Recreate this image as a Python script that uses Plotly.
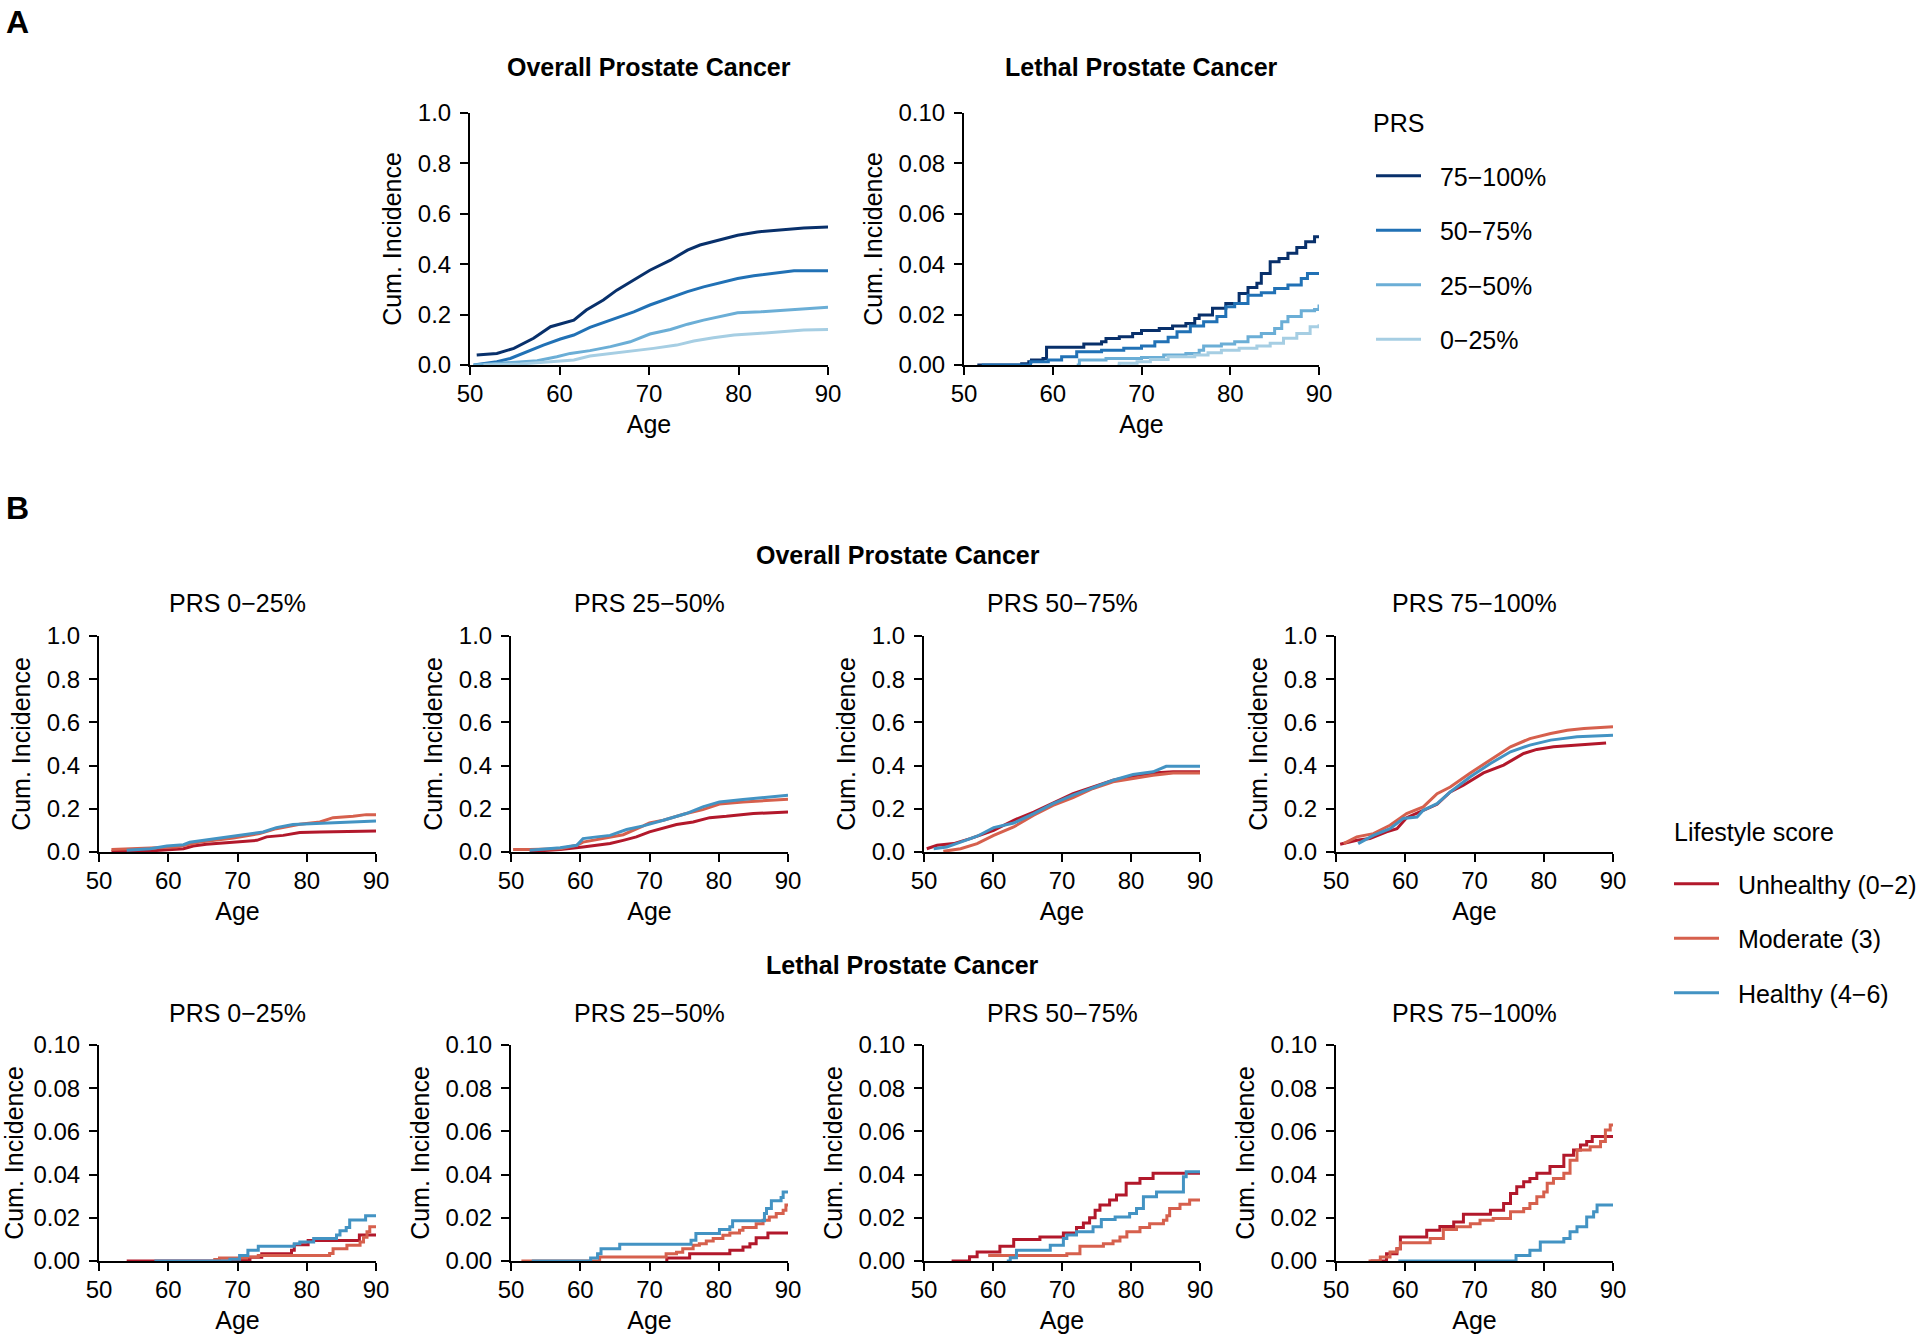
import plotly.graph_objects as go

# ---------------- data ----------------
AGE_TICKS = [50, 60, 70, 80, 90]
OVERALL_TICKS = [0.0, 0.2, 0.4, 0.6, 0.8, 1.0]
OVERALL_TICKTEXT = ["0.0", "0.2", "0.4", "0.6", "0.8", "1.0"]
LETHAL_TICKS = [0.0, 0.02, 0.04, 0.06, 0.08, 0.10]
LETHAL_TICKTEXT = ["0.00", "0.02", "0.04", "0.06", "0.08", "0.10"]

PRS_GROUPS = ["75−100%", "50−75%", "25−50%", "0−25%"]
PRS_PANEL_TITLES = ["PRS 0−25%", "PRS 25−50%", "PRS 50−75%", "PRS 75−100%"]
LIFESTYLE_GROUPS = ["Unhealthy (0−2)", "Moderate (3)", "Healthy (4−6)"]

# Panel A, overall (age, cumulative incidence)
A_OV_Q4 = [(50.75, 0.040), (53, 0.046), (54.9, 0.066), (57.1, 0.106), (59, 0.152), (61.6, 0.178), (63, 0.218),
           (64.9, 0.258), (66.4, 0.297), (68.3, 0.337), (70.1, 0.376), (72.4, 0.416), (74.3, 0.456), (75.7, 0.476),
           (77.6, 0.495), (79.9, 0.515), (82.1, 0.528), (85.4, 0.539), (87.3, 0.544), (90, 0.548)]
A_OV_Q3 = [(50.4, 0.0), (53, 0.013), (54.5, 0.026), (56.3, 0.053), (58.2, 0.079), (60.1, 0.103), (61.6, 0.119),
           (63.4, 0.149), (66, 0.181), (68.3, 0.211), (70.1, 0.238), (72.4, 0.267), (74.3, 0.291), (76.1, 0.310),
           (78, 0.328), (79.9, 0.343), (81.7, 0.354), (84.3, 0.366), (86.2, 0.374), (90, 0.374)]
A_OV_Q2 = [(50.4, 0.0), (53.7, 0.007), (57.5, 0.017), (59.7, 0.033), (61.2, 0.046), (63.4, 0.057), (65.7, 0.073),
           (67.9, 0.092), (70.1, 0.123), (72.4, 0.141), (74.3, 0.162), (76.1, 0.178), (78, 0.194), (79.9, 0.207),
           (82.5, 0.211), (85.4, 0.218), (87.3, 0.225), (90, 0.229)]
A_OV_Q1 = [(51.5, 0.0), (55.6, 0.004), (59, 0.013), (61.6, 0.020), (63.4, 0.036), (65.7, 0.046), (68.3, 0.055),
           (70.5, 0.066), (73.1, 0.079), (75, 0.095), (77.2, 0.108), (79.5, 0.119), (82.1, 0.125), (84.7, 0.132),
           (87.3, 0.139), (90, 0.141)]

# Panel A, lethal (step functions)
A_LE_Q4 = [(51.5, 0), (56.5, 0.0005), (57.3, 0.0013), (57.6, 0.002), (58.9, 0.0026), (59.3, 0.007), (63.5, 0.0083),
           (65.5, 0.0092), (66, 0.0105), (67.5, 0.0112), (69, 0.0125), (70, 0.0137), (72, 0.0145), (73.5, 0.0155),
           (75, 0.0165), (76, 0.0185), (76.5, 0.0198), (78, 0.0225), (79.5, 0.0244), (81, 0.0284), (82, 0.0308),
           (83, 0.0324), (83.5, 0.0363), (84.5, 0.041), (85.5, 0.0423), (86.5, 0.0443), (87.5, 0.0466),
           (88.5, 0.0489), (89.5, 0.0509), (90, 0.0515)]
A_LE_Q3 = [(52, 0), (57.5, 0.0013), (59.5, 0.002), (61, 0.0033), (62.7, 0.0053), (65.5, 0.0059), (68, 0.0066),
           (70, 0.0075), (71.5, 0.0092), (73, 0.011), (74, 0.0132), (75.5, 0.0155), (77, 0.0172), (78.5, 0.0192),
           (79.5, 0.0231), (80.5, 0.0244), (82, 0.0277), (83.5, 0.0287), (85, 0.0304), (86.5, 0.0317), (88, 0.0343),
           (88.7, 0.0363), (90, 0.0363)]
A_LE_Q2 = [(62.7, 0), (63, 0.002), (66, 0.0026), (70, 0.003), (72.5, 0.004), (75, 0.0046), (76.5, 0.0059),
           (77, 0.0075), (79, 0.0083), (80.5, 0.0092), (82, 0.0112), (83.5, 0.0125), (85, 0.0145), (85.8, 0.0172),
           (86.5, 0.0192), (88, 0.0215), (89.5, 0.022), (90, 0.024)]
A_LE_Q1 = [(67.3, 0), (67.5, 0.0007), (69.5, 0.0013), (71, 0.0022), (73, 0.0033), (76, 0.004), (77.5, 0.0049),
           (79, 0.0059), (81, 0.0066), (83, 0.0075), (84.5, 0.0086), (86, 0.0106), (87.5, 0.0125), (89, 0.0152),
           (90, 0.0162)]

# Panel B, overall, by PRS quartile and lifestyle
B_OV_Q1_UNH = [(51.8, 0.003), (57.4, 0.005), (62.2, 0.015), (63.6, 0.028), (65.5, 0.036), (68.4, 0.042),
               (70.4, 0.046), (72.8, 0.054), (74.2, 0.07), (76.6, 0.077), (79, 0.09), (81.9, 0.093), (90, 0.097)]
B_OV_Q1_MOD = [(51.8, 0.011), (57.4, 0.019), (61.2, 0.023), (64.6, 0.046), (69.4, 0.065), (73.2, 0.085),
               (75.6, 0.108), (79, 0.128), (81.9, 0.139), (83.8, 0.159), (86.7, 0.165), (88.6, 0.173), (90, 0.173)]
B_OV_Q1_HEA = [(54, 0.008), (57.4, 0.015), (59.8, 0.028), (62.2, 0.034), (63.1, 0.045), (67, 0.062), (70.4, 0.077),
               (73.7, 0.093), (75.6, 0.113), (78, 0.127), (80.5, 0.131), (83.8, 0.136), (86.7, 0.139), (90, 0.144)]

B_OV_Q2_UNH = [(52.7, 0.003), (57.1, 0.011), (60.4, 0.023), (64.3, 0.039), (66.2, 0.054), (68.1, 0.07), (70, 0.093),
               (72.5, 0.113), (73.9, 0.127), (76.3, 0.139), (78.7, 0.159), (81.1, 0.165), (85, 0.178), (90, 0.185)]
B_OV_Q2_MOD = [(50.3, 0.011), (52.7, 0.011), (57.1, 0.015), (59.5, 0.031), (60.4, 0.046), (63.3, 0.062),
               (66.2, 0.08), (69.1, 0.121), (70, 0.135), (72, 0.147), (75.3, 0.178), (77.7, 0.196), (80.1, 0.222),
               (83.5, 0.232), (86.9, 0.24), (90, 0.244)]
B_OV_Q2_HEA = [(52.7, 0.008), (57.1, 0.02), (59.5, 0.031), (60.4, 0.062), (62.4, 0.07), (64.3, 0.077),
               (66.7, 0.104), (69.1, 0.121), (72, 0.147), (75.3, 0.178), (77.7, 0.209), (80.1, 0.232),
               (83.5, 0.243), (86.9, 0.255), (90, 0.263)]

B_OV_Q3_UNH = [(50.4, 0.015), (51.9, 0.031), (54.3, 0.039), (56.7, 0.062), (60.1, 0.1), (63, 0.147),
               (65.9, 0.185), (68.7, 0.227), (71.6, 0.27), (74.5, 0.301), (77.4, 0.332), (80.3, 0.352),
               (83.2, 0.366), (86.1, 0.371), (90, 0.371)]
B_OV_Q3_MOD = [(52.8, 0.003), (55.3, 0.015), (57.7, 0.039), (60.1, 0.077), (63, 0.116), (65.9, 0.17),
               (68.7, 0.216), (71.6, 0.252), (74.5, 0.294), (77.4, 0.325), (80.3, 0.34), (83.2, 0.355),
               (86.1, 0.366), (90, 0.366)]
B_OV_Q3_HEA = [(51.4, 0.015), (53.3, 0.023), (55.3, 0.046), (57.7, 0.073), (60.1, 0.113), (63, 0.134),
               (65.9, 0.178), (68.7, 0.224), (71.6, 0.263), (74.5, 0.298), (77.4, 0.332), (80.3, 0.359),
               (83.2, 0.371), (85.1, 0.397), (90, 0.397)]

B_OV_Q4_UNH = [(50.6, 0.036), (53, 0.054), (54.9, 0.062), (57.3, 0.093), (58.8, 0.108), (60.2, 0.159),
               (62.6, 0.193), (64.6, 0.221), (66.5, 0.278), (68.4, 0.309), (71.3, 0.366), (74.2, 0.402),
               (77.1, 0.456), (79, 0.475), (81.4, 0.487), (84.3, 0.495), (86.7, 0.502), (89, 0.505)]
B_OV_Q4_MOD = [(51.1, 0.039), (53, 0.07), (55.4, 0.085), (57.8, 0.124), (60.2, 0.178), (62.6, 0.209),
               (64.6, 0.27), (66.5, 0.301), (69.4, 0.366), (72.3, 0.425), (75.2, 0.487), (78, 0.525), (81, 0.549),
               (83.4, 0.564), (85.8, 0.572), (90, 0.58)]
B_OV_Q4_HEA = [(53.2, 0.039), (55.4, 0.077), (57.8, 0.108), (59.7, 0.155), (61.7, 0.162), (62.6, 0.193),
               (64.6, 0.224), (66.5, 0.278), (69.4, 0.348), (72.3, 0.41), (75.2, 0.464), (78, 0.495), (81, 0.518),
               (84.8, 0.533), (90, 0.541)]

# Panel B, lethal (step functions)
B_LE_Q1_UNH = [(54, 0), (70.2, 0.0007), (71.8, 0.0017), (73.5, 0.0034), (77.8, 0.005), (78.2, 0.0075),
               (80.2, 0.0095), (87.6, 0.012), (90, 0.012)]
B_LE_Q1_MOD = [(66.5, 0.0007), (67.4, 0.0014), (71.3, 0.0019), (73, 0.0026), (83.3, 0.0035), (83.8, 0.0057),
               (85.8, 0.0073), (87.7, 0.0088), (88.2, 0.011), (88.7, 0.0135), (89.1, 0.0158), (90, 0.0158)]
B_LE_Q1_HEA = [(58, 0), (68.9, 0.0008), (70.3, 0.0026), (71.5, 0.005), (73, 0.0068), (78.2, 0.008), (79, 0.0088),
               (81, 0.0104), (84.3, 0.012), (84.8, 0.014), (85.7, 0.0155), (86.2, 0.019), (88.5, 0.021), (90, 0.021)]

B_LE_Q2_UNH = [(72.4, 0), (72.5, 0.0014), (75.8, 0.0034), (81.6, 0.005), (83.5, 0.0065), (84.5, 0.008),
               (85.4, 0.0108), (87.1, 0.013), (90, 0.013)]
B_LE_Q2_MOD = [(51.5, 0), (62.8, 0.0019), (72.4, 0.0034), (73.9, 0.004), (74.8, 0.0057), (76.3, 0.0073),
               (77.2, 0.008), (78.2, 0.0093), (79.2, 0.0104), (80.6, 0.0119), (81.6, 0.013), (83, 0.0142),
               (83.5, 0.0155), (85.4, 0.0173), (86.4, 0.0189), (87.3, 0.0204), (88.3, 0.022), (89.3, 0.0235),
               (89.7, 0.0259), (90, 0.0259)]
B_LE_Q2_HEA = [(53, 0), (61.5, 0.0014), (62.5, 0.0034), (63, 0.0057), (65.7, 0.0077), (76, 0.0096),
               (76.7, 0.0127), (80.1, 0.0146), (81.6, 0.0158), (82, 0.0186), (86.6, 0.022), (86.9, 0.0243),
               (87.6, 0.0279), (89, 0.0294), (89.3, 0.032), (90, 0.032)]

B_LE_Q3_UNH = [(54, 0), (56.6, 0.002), (57.7, 0.0042), (61, 0.0068), (63, 0.0099), (66.8, 0.0111), (70.2, 0.013),
               (72.1, 0.0155), (73.1, 0.0176), (74, 0.02), (74.8, 0.0235), (75.5, 0.0259), (76.9, 0.0282),
               (77.9, 0.0305), (79.3, 0.036), (81.3, 0.0382), (83.2, 0.0406), (90, 0.0406)]
B_LE_Q3_MOD = [(59.3, 0.0026), (70.7, 0.0034), (72.6, 0.0068), (76, 0.008), (77.4, 0.0093), (78.4, 0.0111),
               (79.4, 0.0135), (81.3, 0.0155), (82.7, 0.0173), (84.7, 0.0189), (85.2, 0.021), (85.6, 0.0243),
               (87.1, 0.0263), (88.5, 0.0282), (90, 0.0285)]
B_LE_Q3_HEA = [(62, 0), (62.5, 0.0015), (63.4, 0.005), (68.3, 0.0073), (70.2, 0.0104), (70.7, 0.012),
               (72.1, 0.0135), (74.5, 0.0158), (75.7, 0.0192), (77.7, 0.0204), (79.8, 0.022), (80.8, 0.0243),
               (81.8, 0.0297), (83.7, 0.032), (87.6, 0.039), (88, 0.0413), (90, 0.0413)]

B_LE_Q4_UNH = [(55, 0), (57.3, 0.0034), (58.8, 0.0057), (59.3, 0.0111), (63.1, 0.0142), (65, 0.016), (67, 0.018),
               (68.4, 0.0217), (72.3, 0.0235), (74.2, 0.0266), (75.2, 0.0313), (76.1, 0.0344), (77.1, 0.0367),
               (78, 0.0382), (79, 0.0406), (80.9, 0.0437), (82.9, 0.049), (84.3, 0.0514), (85.3, 0.0537),
               (86.2, 0.0553), (87, 0.0576), (90, 0.0576)]
B_LE_Q4_MOD = [(54.7, 0), (56.4, 0.0019), (57.8, 0.0042), (58.8, 0.0057), (59.3, 0.0084), (63.6, 0.0104),
               (65.5, 0.0146), (67.4, 0.0158), (69.4, 0.0173), (70.8, 0.0189), (72.7, 0.0197), (75.2, 0.0228),
               (77.1, 0.0243), (78, 0.0266), (79, 0.0297), (80, 0.032), (80.5, 0.036), (81.4, 0.0382),
               (82.9, 0.0406), (83.8, 0.0467), (84.8, 0.0514), (86.7, 0.0529), (88.2, 0.0553), (88.9, 0.0607),
               (89.6, 0.063), (90, 0.063)]
B_LE_Q4_HEA = [(59, 0), (76, 0.0026), (78, 0.005), (79.5, 0.0088), (82.9, 0.0104), (83.8, 0.0135), (84.8, 0.0158),
               (86.2, 0.0204), (87.2, 0.0228), (87.7, 0.0259), (90, 0.0259)]

# ---------------- styling ----------------
W, H = 1920, 1334
FONT = "Liberation Sans, Arial, Helvetica, sans-serif"
PRS_COLORS = ["#08306B", "#2171B5", "#6BAED6", "#A6CEE3"]
LIFE_COLORS = ["#B2182B", "#D6604D", "#4393C3"]
LW = 3
GAP = "\u00a0\u00a0"  # extra space between legend line sample and label

# panel boxes in pixels: (x0, x1, ytop, ybottom)
A_BOXES = [(470, 828, 113, 365), (964, 1319, 113, 365)]
B_XS = [(99, 376), (511, 788), (924, 1200), (1336, 1613)]
B_ROW1 = (636, 852)
B_ROW2 = (1045, 1261)

fig = go.Figure()
layout_axes = {}
annotations = []


def add_axes(idx, box, lethal):
    x0, x1, yt, yb = box
    sfx = "" if idx == 1 else str(idx)
    layout_axes["xaxis" + sfx] = dict(
        domain=[x0 / W, x1 / W], anchor="y" + sfx, range=[50, 90], tickvals=AGE_TICKS,
        showline=True, linecolor="black", linewidth=2, ticks="outside", ticklen=8, tickwidth=2,
        tickcolor="black", showgrid=False, zeroline=False, automargin=False, ticklabelstandoff=-2,
        tickfont=dict(size=24, color="black"),
        title=dict(text="Age", font=dict(size=25, color="black"), standoff=10))
    layout_axes["yaxis" + sfx] = dict(
        domain=[1 - yb / H, 1 - yt / H], anchor="x" + sfx,
        range=[0, 0.1] if lethal else [0, 1.0],
        tickvals=LETHAL_TICKS if lethal else OVERALL_TICKS,
        ticktext=LETHAL_TICKTEXT if lethal else OVERALL_TICKTEXT,
        showline=True, linecolor="black", linewidth=2, ticks="outside", ticklen=8, tickwidth=2,
        tickcolor="black", showgrid=False, zeroline=False, automargin=False, ticklabelstandoff=4,
        tickfont=dict(size=24, color="black"),
        title=dict(text="Cum. Incidence", font=dict(size=25, color="black"), standoff=9))
    return ("x" + sfx, "y" + sfx)


def add_series(series, axes, color, name, group, legend, showlegend, shape):
    xs = [p[0] for p in series]
    ys = [p[1] for p in series]
    fig.add_trace(go.Scatter(x=xs, y=ys, mode="lines", line=dict(color=color, width=LW, shape=shape),
                             name=GAP + name, legendgroup=group, showlegend=showlegend, legend=legend,
                             xaxis=axes[0], yaxis=axes[1], hoverinfo="skip"))


# Panel A
axA1 = add_axes(1, A_BOXES[0], False)
axA2 = add_axes(2, A_BOXES[1], True)
A_OV = [A_OV_Q4, A_OV_Q3, A_OV_Q2, A_OV_Q1]
A_LE = [A_LE_Q4, A_LE_Q3, A_LE_Q2, A_LE_Q1]
for k in range(4):
    add_series(A_OV[k], axA1, PRS_COLORS[k], PRS_GROUPS[k], "prs%d" % k, "legend", True, "linear")
    add_series(A_LE[k], axA2, PRS_COLORS[k], PRS_GROUPS[k], "prs%d" % k, "legend", False, "hv")

# Panel B
B_OV = [[B_OV_Q1_UNH, B_OV_Q1_MOD, B_OV_Q1_HEA], [B_OV_Q2_UNH, B_OV_Q2_MOD, B_OV_Q2_HEA],
        [B_OV_Q3_UNH, B_OV_Q3_MOD, B_OV_Q3_HEA], [B_OV_Q4_UNH, B_OV_Q4_MOD, B_OV_Q4_HEA]]
B_LE = [[B_LE_Q1_UNH, B_LE_Q1_MOD, B_LE_Q1_HEA], [B_LE_Q2_UNH, B_LE_Q2_MOD, B_LE_Q2_HEA],
        [B_LE_Q3_UNH, B_LE_Q3_MOD, B_LE_Q3_HEA], [B_LE_Q4_UNH, B_LE_Q4_MOD, B_LE_Q4_HEA]]


def note(text, xpx, ypx, size=25, xanchor="center", bold=False):
    annotations.append(dict(text=("<b>%s</b>" % text) if bold else text, x=xpx / W, y=1 - ypx / H,
                            xref="paper", yref="paper", xanchor=xanchor, yanchor="middle", showarrow=False,
                            font=dict(size=size, color="black")))


idx = 3
for q in range(4):
    x0, x1 = B_XS[q]
    ax = add_axes(idx, (x0, x1, B_ROW1[0], B_ROW1[1]), False)
    for j in range(3):
        add_series(B_OV[q][j], ax, LIFE_COLORS[j], LIFESTYLE_GROUPS[j], "life%d" % j, "legend2", q == 0, "linear")
    note(PRS_PANEL_TITLES[q], (x0 + x1) / 2, 603)
    idx += 1
for q in range(4):
    x0, x1 = B_XS[q]
    ax = add_axes(idx, (x0, x1, B_ROW2[0], B_ROW2[1]), True)
    for j in range(3):
        add_series(B_LE[q][j], ax, LIFE_COLORS[j], LIFESTYLE_GROUPS[j], "life%d" % j, "legend2", False, "hv")
    note(PRS_PANEL_TITLES[q], (x0 + x1) / 2, 1013)
    idx += 1

note("A", 4, 22, size=32, xanchor="left", bold=True)
note("B", 4, 508, size=32, xanchor="left", bold=True)
note("Overall Prostate Cancer", 649, 67, bold=True)
note("Lethal Prostate Cancer", 1141.5, 67, bold=True)
note("Overall Prostate Cancer", 898, 555, bold=True)
note("Lethal Prostate Cancer", 902, 965, bold=True)
# legend headings
note("PRS", 1371, 123, xanchor="left")
note("Lifestyle score", 1672, 832, xanchor="left")

fig.update_layout(
    width=W, height=H, margin=dict(l=0, r=0, t=0, b=0, autoexpand=False),
    paper_bgcolor="white", plot_bgcolor="white",
    font=dict(family=FONT, size=24, color="black"),
    annotations=annotations,
    legend=dict(x=1371 / W, y=1 - 153 / H, xanchor="left", yanchor="top", font=dict(size=25),
                tracegroupgap=19, bgcolor="rgba(0,0,0,0)", traceorder="grouped", itemwidth=45),
    legend2=dict(x=1669 / W, y=1 - 861 / H, xanchor="left", yanchor="top", font=dict(size=25),
                 tracegroupgap=19, bgcolor="rgba(0,0,0,0)", traceorder="grouped", itemwidth=45),
    showlegend=True,
    **layout_axes,
)

fig.write_html("out.html", config={"displayModeBar": False},
               post_script="document.body.style.margin='0';document.body.style.overflow='hidden';")
